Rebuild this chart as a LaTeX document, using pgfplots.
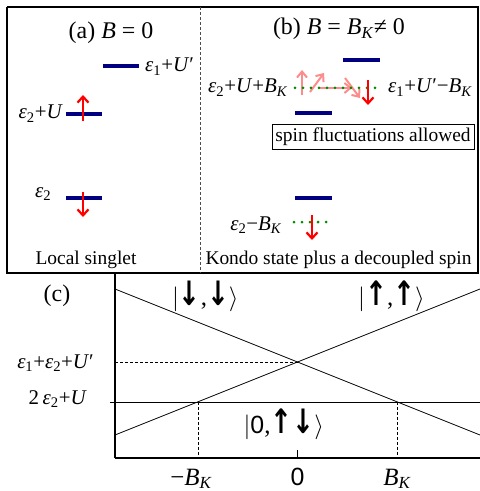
\documentclass[border=0pt]{standalone}
\usepackage{fontspec}
\setmainfont{Liberation Serif}
\newfontfamily\arial{Liberation Sans}
\newfontfamily\dejavu{DejaVu Sans}
\usepackage{graphicx}
\usepackage{pgfplots}
\pgfplotsset{compat=1.18}
\usetikzlibrary{arrows.meta}

\definecolor{lvl}{RGB}{0,0,128}
\definecolor{spinred}{RGB}{255,0,0}
\definecolor{spinpink}{RGB}{255,140,140}
\definecolor{dotgreen}{RGB}{0,140,0}

\newcommand{\lab}{\fontsize{21}{24}\selectfont}
\newcommand{\txt}{\fontsize{19.5}{23}\selectfont}
\newcommand{\ttl}{\fontsize{24}{28}\selectfont}
\newcommand{\eps}[1]{\textit{ε}\textsubscript{#1}}
\newcommand{\BK}{\textit{B}\textsubscript{\textit{K}}}
\newcommand{\tBK}{\textit{B}\raisebox{-0.12em}{\fontsize{17}{17}\selectfont\textit{K}}}
\newcommand{\U}{\textit{U}}
\newcommand{\ket}[1]{{\fontsize{25}{28}\selectfont$|$#1$\rangle$}}
\newcommand{\up}{{\dejavu\bfseries\scalebox{1.05}[1.35]{↑}}}
\newcommand{\dn}{{\dejavu\bfseries\scalebox{1.05}[1.35]{↓}}}

\tikzset{
  level/.style={lvl, line width=3.5bp},
  spin/.style={spinred, line width=2.2bp, -{Straight Barb[length=6bp,width=11bp]}},
  flip/.style={spinpink, line width=2bp, -{Straight Barb[length=6bp,width=10bp]}},
  dots/.style={dotgreen, line width=3bp, line cap=round, dash pattern=on 0pt off 8bp},
}

\begin{document}
\begin{tikzpicture}
\useasboundingbox (0,0) rectangle (480bp,491bp);

% panels (a) and (b): pixel coordinates, y counted from the top
\begin{axis}[
    at={(0,0)}, anchor=south west,
    scale only axis, width=480bp, height=491bp,
    xmin=0, xmax=480, ymin=0, ymax=491,
    y dir=reverse, hide axis, clip=false,
  ]
  % frame and divider
  \addplot[black, line width=1.1bp] coordinates {(7,7) (478,7) (478,273) (7,273) (7,7)};
  \addplot[black!70, line width=0.7bp, dash pattern=on 3bp off 2bp] coordinates {(200,7) (200,273)};

  % energy levels
  \addplot[level] coordinates {(103,66) (139,66)};
  \addplot[level] coordinates {(66,114) (102,114)};
  \addplot[level] coordinates {(66,198) (102,198)};
  \addplot[level] coordinates {(343,60) (380,60)};
  \addplot[level] coordinates {(295,113) (332,113)};
  \addplot[level] coordinates {(295,198) (332,198)};

  % spin fluctuations
  \addplot[flip] coordinates {(302,95) (302,70)};
  \addplot[flip] coordinates {(310,92) (324,73)};
  \addplot[flip] coordinates {(318,88) (352,88)};
  \addplot[flip] coordinates {(345,78) (360,98)};

  % shifted levels
  \addplot[dots] coordinates {(295,88) (377,88)};
  \addplot[dots] coordinates {(294,222) (330,222)};

  % spins
  \addplot[spin] coordinates {(83,121) (83,95)};
  \addplot[spin] coordinates {(83,192) (83,217)};
  \addplot[spin] coordinates {(368,80) (368,105)};
  \addplot[spin] coordinates {(312,215) (312,240)};

  % box
  \addplot[black, line width=0.8bp] coordinates {(272,124) (474,124) (474,149) (272,149) (272,124)};
  \node at (axis cs:373,137) {\txt spin fluctuations allowed};

  % texts
  \node[anchor=base] at (axis cs:111,39) {\ttl (a) \textit{B} = 0};
  \node[anchor=base] at (axis cs:339,35) {\ttl (b) \textit{B} = \BK ≠ 0};
  \node[anchor=base west, inner sep=0] at (axis cs:145,72) {\lab\eps{1}+\U′};
  \node[anchor=base east, inner sep=0] at (axis cs:63,119) {\lab\eps{2}+\U};
  \node[anchor=base west, inner sep=0] at (axis cs:35,197) {\lab\eps{2}};
  \node[anchor=base] at (axis cs:86,264) {\txt Local singlet};
  \node[anchor=base east, inner sep=0] at (axis cs:288,93) {\lab\eps{2}+\U+\BK};
  \node[anchor=base west, inner sep=0] at (axis cs:388,93) {\lab\eps{1}+\U′−\BK};
  \node[anchor=base east, inner sep=0] at (axis cs:282,230) {\lab\eps{2}−\BK};
  \node[anchor=base] at (axis cs:338.5,264) {\txt Kondo state plus a decoupled spin};

  % labels of panel (c)
  \node at (axis cs:57,296) {\ttl (c)};
  \node[anchor=base east, inner sep=0] at (axis cs:94,368) {\lab\eps{1}+\eps{2}+\U′};
  \node[anchor=base east, inner sep=0] at (axis cs:87,404) {\lab 2\,\eps{2}+\U};
\end{axis}

% panel (c): energies against field
\begin{axis}[
    at={(115bp,33bp)}, anchor=south west,
    scale only axis, width=365bp, height=185bp,
    xmin=-1, xmax=1, ymin=0, ymax=185,
    axis x line=bottom, axis y line=left,
    axis line style={-, line width=1.1bp},
    xtick={-0.545,0,0.545},
    xticklabels={\llap{−}\tBK, {\arial 0}, \tBK},
    xtick style={draw=none},
    ytick=\empty,
    xticklabel style={font=\fontsize{25}{28}\selectfont, anchor=base, yshift=-25.5bp},
    clip=false,
  ]
  \addplot[black, line width=0.8bp] coordinates {(-1,169) (1,23)};
  \addplot[black, line width=0.8bp] coordinates {(-1,23) (1,169)};
  \addplot[black, line width=0.8bp] coordinates {(-1.027,56) (1,56)};
  \addplot[black, line width=0.7bp, dash pattern=on 3bp off 2bp] coordinates {(-1,96) (0,96)};
  \addplot[black, line width=0.7bp, dash pattern=on 3bp off 2bp] coordinates {(-0.545,56) (-0.545,0)};
  \addplot[black, line width=0.7bp, dash pattern=on 3bp off 2bp] coordinates {(0.545,56) (0.545,0)};
  \addplot[black, line width=1bp] coordinates {(0,0) (0,8)};

  \node at (axis cs:-0.505,162) {\ket{\dn,\dn}};
  \node at (axis cs:0.515,162) {\ket{\up,\up}};
  \node at (axis cs:-0.075,34) {\ket{{\arial 0},\up\dn}};
\end{axis}
\end{tikzpicture}
\end{document}
